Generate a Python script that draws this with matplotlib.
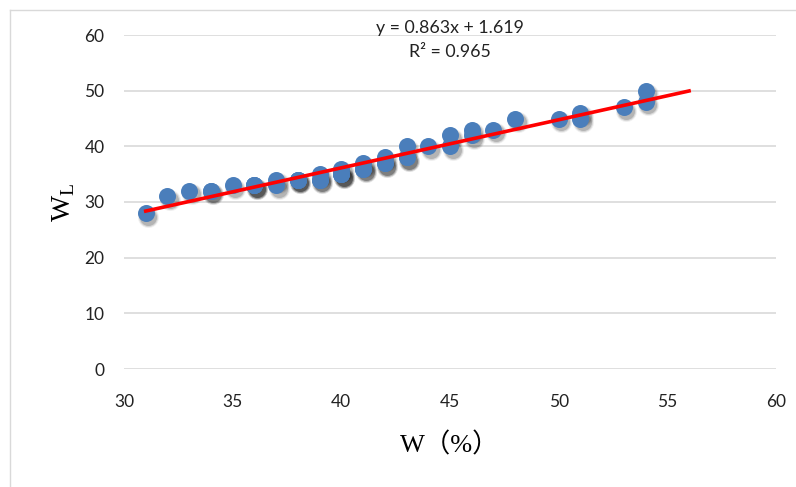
import numpy as np
import matplotlib
matplotlib.use("Agg")
import matplotlib.pyplot as plt
import matplotlib.transforms as mtransforms
from matplotlib.lines import Line2D

# ---- data ----
w_values = [31, 32, 33, 34, 34, 35, 36, 36, 36, 37, 37, 38, 38, 38,
            39, 39, 39, 40, 40, 40, 40, 41, 41, 41, 42, 42, 42, 43, 43, 43,
            44, 45, 45, 46, 46, 47, 48, 50, 51, 51, 53, 54, 54]
wl_values = [28, 31, 32, 32, 32, 33, 33, 33, 33, 33, 34, 34, 34, 34,
             34, 35, 34, 35, 36, 35, 35, 36, 37, 36, 37, 38, 37, 38, 40, 38,
             40, 40, 42, 42, 43, 43, 45, 45, 45, 46, 47, 48, 50]
trend_coef = [0.863, 1.619]
trend_range = [31, 56]
x_ticks = [30, 35, 40, 45, 50, 55, 60]
y_ticks = [0, 10, 20, 30, 40, 50, 60]
eq_lines = ["y = 0.863x + 1.619", "R² = 0.965"]

W, H = 796, 487
fig = plt.figure(figsize=(W / 100, H / 100), dpi=100)
ax = fig.add_axes([124 / W, 1 - 369 / H, (776 - 124) / W, (369 - 35) / H])

tick_font = "Lato"

ax.set_xlim(30, 60)
ax.set_ylim(0, 60)
ax.set_xticks(x_ticks)
ax.set_yticks(y_ticks)
ax.tick_params(length=0, labelsize=12.5, colors="#222222")
ax.tick_params(axis="y", pad=14)
ax.tick_params(axis="x", pad=18)
for lab in ax.get_xticklabels() + ax.get_yticklabels():
    lab.set_fontfamily(tick_font)
for s in ax.spines.values():
    s.set_visible(False)
ax.grid(axis="y", color="#d9d9d9", linewidth=1.2)
ax.set_axisbelow(True)

# soft shadow (several translucent layers, offset down-right)
shadow_off = mtransforms.ScaledTranslation(2.5 / 100, -3.5 / 100, fig.dpi_scale_trans)
for size, alpha in [(230, 0.06), (190, 0.10), (150, 0.16)]:
    ax.scatter(w_values, wl_values, s=size, color="black", alpha=alpha,
               linewidths=0, zorder=2, transform=ax.transData + shadow_off)

ax.scatter(w_values, wl_values, s=150, color="#4a7ebb", zorder=3, linewidths=0)

xt = np.array(trend_range, dtype=float)
ax.plot(xt, np.polyval(trend_coef, xt), color="#ff0000", linewidth=2.6, zorder=4)

ax.text(0.5, (369 - 28) / 334, eq_lines[0], transform=ax.transAxes,
        ha="center", va="center", fontsize=12.8, family=tick_font, color="#222222")
ax.text(0.5, (369 - 52) / 334, eq_lines[1], transform=ax.transAxes,
        ha="center", va="center", fontsize=12.8, family=tick_font, color="#222222")

ax.set_xlabel("W（%）", family=["Liberation Serif", "Noto Sans CJK SC"],
              fontsize=19, labelpad=16)
ax.set_ylabel("W$_{\\mathregular{L}}$", family="Liberation Serif",
              fontsize=20, labelpad=5)

# outer frame
fig.add_artist(Line2D([10 / W, 10 / W], [0, 1 - 10 / H], transform=fig.transFigure,
                      color="#d9d9d9", linewidth=1))
fig.add_artist(Line2D([10 / W, 1], [1 - 10 / H, 1 - 10 / H], transform=fig.transFigure,
                      color="#d9d9d9", linewidth=1))

fig.savefig("out.png", dpi=100, facecolor="white")
